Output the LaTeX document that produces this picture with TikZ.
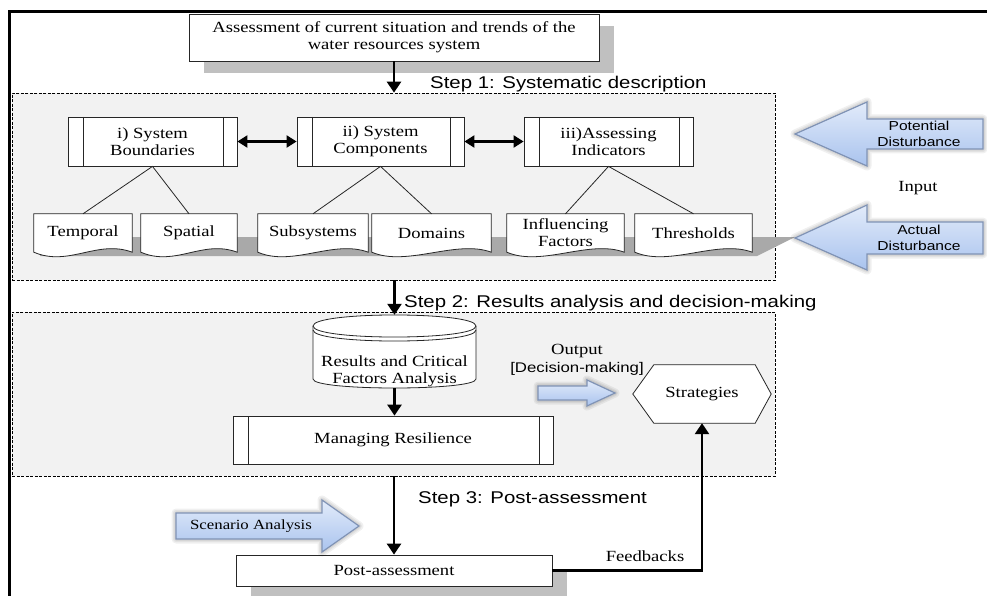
\documentclass[tikz,border=0pt]{standalone}
\usepackage{fontspec}
\setmainfont{Liberation Serif}[FakeStretch=1.2]
\newfontfamily\arialf{Liberation Sans}[FakeStretch=1.2]
\usetikzlibrary{arrows.meta,calc}
\pgfdeclarelayer{bgl}
\pgfdeclarelayer{midl}
\pgfsetlayers{bgl,midl,main}
\definecolor{panelgray}{HTML}{F2F2F2}
\definecolor{shadowgray}{HTML}{C0C0C0}
\definecolor{bandgray}{HTML}{A9A9A9}
\definecolor{arrowtop}{HTML}{E2EBFA}
\definecolor{arrowbot}{HTML}{A9C3EE}
\definecolor{arrowborder}{HTML}{8093B5}
\tikzset{
  tx/.style={font=\fontsize{15.5}{17}\selectfont, align=center},
  sx/.style={font=\arialf\fontsize{13}{16}\selectfont, align=center},
  stepl/.style={font=\arialf\fontsize{17}{20}\selectfont, anchor=base west, inner sep=0},
  panel/.style={draw=black, dash pattern=on 3pt off 1.5pt, line width=0.7pt, fill=panelgray, inner sep=0},
  linkline/.style={line width=0.8pt, draw=black!85},
  plainbox/.style={linkline, fill=white, tx, inner sep=0},
  procbox/.style={plainbox, path picture={
      \draw[black!85, line width=0.8pt]
        ([xshift=15pt]path picture bounding box.north west) -- ([xshift=15pt]path picture bounding box.south west)
        ([xshift=-14pt]path picture bounding box.north east) -- ([xshift=-14pt]path picture bounding box.south east);}},
  docnode/.style={tx, inner sep=0, minimum height=38pt},
  flow/.style={line width=2.6pt, -{Triangle[width=14pt,length=11pt]}},
  dflow/.style={line width=2.2pt, {Triangle[width=12pt,length=10pt]}-{Triangle[width=12pt,length=10pt]}},
  blockarrow/.style={top color=arrowtop, bottom color=arrowbot, draw=arrowborder, line width=1.2pt, line join=miter},
  glow/.style={draw=black, line join=round, opacity=0.06, line width=#1},
}
\newcommand\docoutline[1]{%
  \draw[linkline, fill=white] (#1.north west) -- (#1.north east) -- (#1.south east)
    .. controls ($(#1.south east)+(-35,-13)$) and ($(#1.south west)+(35,15)$) .. (#1.south west) -- cycle;}
\newcommand\glowpath[1]{%
  \draw[glow=9pt] #1; \draw[glow=6pt] #1; \draw[glow=3.5pt] #1;}
\begin{document}
\begin{tikzpicture}[x=1pt,y=-1pt]
\useasboundingbox (0,0) rectangle (987,596);

% frame
\draw[line width=3pt] (9.5,596) -- (9.5,11.5) -- (987,11.5);

% panels
\begin{pgfonlayer}{bgl}
  \node[panel, minimum width=763pt, minimum height=187pt] (p1) at (393.5,186.5) {};
  \node[panel, minimum width=763pt, minimum height=164pt] (p2) at (393.5,394) {};
\end{pgfonlayer}

% top box
\node[plainbox, minimum width=410pt, minimum height=47pt] (top) at (394,37.5)
  {Assessment of current situation and trends of the\\water resources system};

% step labels
\node[stepl] (s1) at (430,89) {Step 1: Systematic description};
\node[stepl] (s2) at (404,307) {Step 2: Results analysis and decision-making};
\node[stepl] (s3) at (418,503) {Step 3: Post-assessment};

% process boxes
\node[procbox, minimum width=169pt, minimum height=49pt] (sb) at (152.5,141.5) {i) System\\Boundaries};
\node[procbox, minimum width=167pt, minimum height=49pt] (sc) at (380.5,141.5) {ii) System\\Components};
\node[procbox, minimum width=169pt, minimum height=49pt] (ai) at (608.5,141.5) {iii)Assessing\\Indicators};

% documents
\node[docnode, minimum width=98pt] (temporal) at (83,233) {Temporal};
\node[docnode, minimum width=96pt] (spatial) at (189,233) {Spatial};
\node[docnode, minimum width=110pt] (subsys) at (313,233) {Subsystems};
\node[docnode, minimum width=119pt] (domains) at (431.5,233) {Domains};
\node[docnode, minimum width=117pt] (infl) at (565.5,233) {Influencing\\Factors};
\node[docnode, minimum width=117pt] (thres) at (693.5,233) {Thresholds};

\begin{pgfonlayer}{midl}
  \fill[shadowgray] ($(top.north west)+(15,12)$) rectangle ($(top.south east)+(15,12)$);
  \fill[bandgray] (40,237) -- (795,237) -- (757,256) -- (40,256) -- cycle;
  \docoutline{temporal}
  \docoutline{spatial}
  \docoutline{subsys}
  \docoutline{domains}
  \docoutline{infl}
  \docoutline{thres}
\end{pgfonlayer}

% tree lines
\draw[linkline] (temporal.north) -- (sb.south) -- (spatial.north);
\draw[linkline] (subsys.north) -- (sc.south) -- (domains.north);
\draw[linkline] (infl.north) -- (ai.south) -- (thres.north);

% double arrows
\draw[dflow] (sb.east) -- (sc.west);
\draw[dflow] (sc.east) -- (ai.west);

% disturbance arrows
\glowpath{(795,134) -- (867,102) -- (867,119) -- (983,119) -- (983,149) -- (867,149) -- (867,166) -- cycle}
\draw[blockarrow] (795,134) -- (867,102) -- (867,119) -- (983,119) -- (983,149) -- (867,149) -- (867,166) -- cycle;
\node[sx] (pd) at (919,134) {Potential\\Disturbance};
\node[tx] (inp) at (918,188) {Input};
\glowpath{(795,238) -- (867,205) -- (867,222) -- (983,222) -- (983,254) -- (867,254) -- (867,270) -- cycle}
\draw[blockarrow] (795,238) -- (867,205) -- (867,222) -- (983,222) -- (983,254) -- (867,254) -- (867,270) -- cycle;
\node[sx] (ad) at (919,238) {Actual\\Disturbance};

% cylinder
\node[inner sep=0, minimum width=163pt, minimum height=73pt] (cyl) at (394.5,351.5) {};
\begin{pgfonlayer}{midl}
  \fill[white] (313,326) -- (313,379) .. controls (313,391) and (476,391) .. (476,379)
     -- (476,326) .. controls (476,311.3) and (313,311.3) .. cycle;
  \draw[linkline] (313,326) -- (313,379) .. controls (313,391) and (476,391) .. (476,379) -- (476,326);
  \draw[linkline] (313,326) .. controls (313,311.3) and (476,311.3) .. (476,326)
     .. controls (476,340.7) and (313,340.7) .. cycle;
  \draw[linkline] (313,330) .. controls (313,344.7) and (476,344.7) .. (476,330);
\end{pgfonlayer}
\node[tx] (cyltxt) at (394.5,371) {Results and Critical\\Factors Analysis};

% managing resilience
\node[procbox, minimum width=320pt, minimum height=48pt] (mr) at (393,440) {Managing Resilience};

% output
\node[tx] (outl) at (577,351) {Output};
\node[sx, font=\arialf\fontsize{14}{16}\selectfont] (dml) at (577,369) {[Decision-making]};
\glowpath{(538,386) -- (587,386) -- (587,380) -- (615,393) -- (587,406) -- (587,400) -- (538,400) -- cycle}
\draw[blockarrow] (538,386) -- (587,386) -- (587,380) -- (615,393) -- (587,406) -- (587,400) -- (538,400) -- cycle;

% strategies
\node[tx, inner sep=0, minimum width=138pt, minimum height=58pt] (strat) at (702,394) {Strategies};
\begin{pgfonlayer}{midl}
  \draw[linkline, fill=white] (strat.west) -- ($(strat.north west)+(21,0)$) -- ($(strat.north east)+(-16,0)$)
    -- (strat.east) -- ($(strat.south east)+(-16,0)$) -- ($(strat.south west)+(21,0)$) -- cycle;
\end{pgfonlayer}

% post assessment
\node[plainbox, minimum width=316pt, minimum height=31pt] (post) at (394,570.5) {Post-assessment};
\begin{pgfonlayer}{midl}
  \fill[shadowgray] ($(post.north west)+(15,15)$) rectangle ($(post.south east)+(15,15)$);
\end{pgfonlayer}

% scenario arrow
\glowpath{(176,513) -- (322,513) -- (322,500) -- (359,526) -- (322,552) -- (322,539) -- (176,539) -- cycle}
\draw[blockarrow] (176,513) -- (322,513) -- (322,500) -- (359,526) -- (322,552) -- (322,539) -- (176,539) -- cycle;
\node[tx, font=\fontsize{14}{16}\selectfont] (scen) at (251,526) {Scenario Analysis};

% main flow
\draw[flow] (top.south) -- (top.south |- p1.north);
\draw[flow] (p1.south -| cyl.north) -- (cyl.north);
\draw[flow] (cyl.south) -- (cyl.south |- mr.north);
\draw[flow] (p2.south -| post.north) -- (post.north);
\draw[flow] (post.east) -| (strat.south);
\node[tx] (fbl) at (645,556) {Feedbacks};
\end{tikzpicture}
\end{document}
